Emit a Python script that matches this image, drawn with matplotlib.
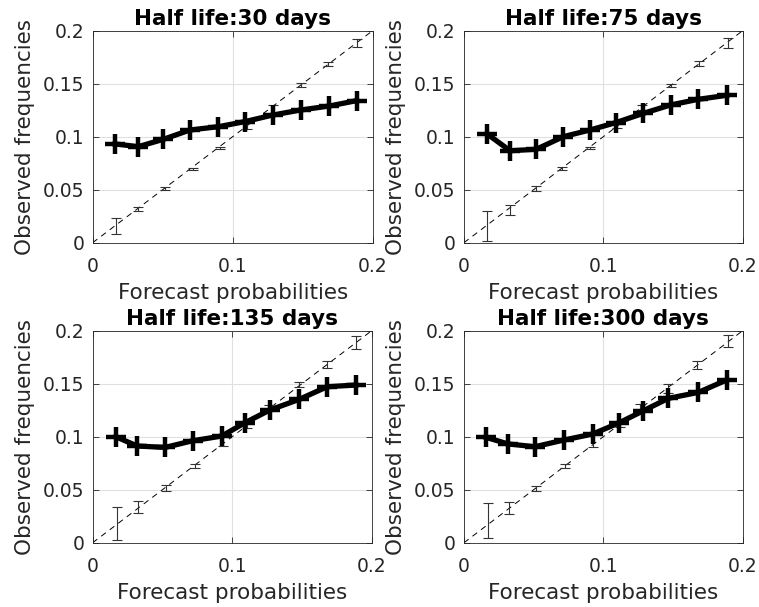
import matplotlib
matplotlib.use("Agg")
import matplotlib.pyplot as plt
import numpy as np

plt.rcParams['font.family'] = ['DejaVu Sans']

titles = ["Half life:30 days", "Half life:75 days",
          "Half life:135 days", "Half life:300 days"]

# forecast probabilities and observed frequencies (thick line with + markers)
fx_30 = [0.016, 0.0326, 0.0505, 0.0695, 0.0898, 0.1088, 0.1286, 0.1488, 0.169, 0.1886]
fy_30 = [0.0931, 0.0906, 0.0975, 0.1063, 0.1094, 0.1142, 0.1204, 0.1252, 0.1289, 0.134]
fx_75 = [0.0167, 0.033, 0.0517, 0.0713, 0.0904, 0.1089, 0.1287, 0.1483, 0.168, 0.1885]
fy_75 = [0.1025, 0.0868, 0.088, 0.1, 0.1063, 0.1132, 0.122, 0.1299, 0.1352, 0.139]
fx_135 = [0.0165, 0.032, 0.0519, 0.0717, 0.0925, 0.1092, 0.1271, 0.148, 0.1682, 0.1885]
fy_135 = [0.1, 0.0912, 0.0899, 0.0962, 0.1006, 0.1132, 0.1252, 0.1352, 0.1472, 0.1487]
fx_300 = [0.0158, 0.0318, 0.051, 0.0718, 0.0923, 0.1115, 0.1287, 0.1467, 0.1682, 0.1885]
fy_300 = [0.0994, 0.0931, 0.0906, 0.0969, 0.1025, 0.1132, 0.1245, 0.1362, 0.1418, 0.1535]

# reliability error bars along the diagonal (x, lower, upper)
ex_30 = [0.0167, 0.0326, 0.0517, 0.0714, 0.091, 0.11, 0.1286, 0.1486, 0.1683, 0.1886]
elo_30 = [0.0082, 0.0302, 0.0497, 0.0686, 0.088, 0.107, 0.1204, 0.1472, 0.1667, 0.1849]
ehi_30 = [0.023, 0.0333, 0.0522, 0.0708, 0.0906, 0.1126, 0.1299, 0.151, 0.1708, 0.1918]
ex_75 = [0.0167, 0.033, 0.0517, 0.0701, 0.0904, 0.11, 0.128, 0.1483, 0.169, 0.1897]
elo_75 = [0.0019, 0.026, 0.049, 0.0686, 0.0887, 0.108, 0.125, 0.1465, 0.1667, 0.184]
ehi_75 = [0.0302, 0.0355, 0.053, 0.0717, 0.0906, 0.112, 0.13, 0.15, 0.171, 0.193]
ex_135 = [0.0172, 0.0327, 0.0526, 0.0734, 0.0932, 0.1104, 0.1266, 0.148, 0.1682, 0.1885]
elo_135 = [0.003, 0.0277, 0.049, 0.0701, 0.0912, 0.108, 0.124, 0.1465, 0.1645, 0.1824]
ehi_135 = [0.034, 0.0396, 0.0544, 0.0739, 0.1016, 0.113, 0.13, 0.1513, 0.1717, 0.195]
ex_300 = [0.0175, 0.0325, 0.0517, 0.0725, 0.0923, 0.112, 0.1263, 0.1467, 0.167, 0.1897]
elo_300 = [0.0041, 0.027, 0.0487, 0.0701, 0.0906, 0.109, 0.125, 0.1409, 0.1638, 0.1843]
ehi_300 = [0.0371, 0.0387, 0.0538, 0.0739, 0.1031, 0.115, 0.131, 0.1497, 0.1717, 0.196]

panels = [
    (fx_30, fy_30, ex_30, elo_30, ehi_30),
    (fx_75, fy_75, ex_75, elo_75, ehi_75),
    (fx_135, fy_135, ex_135, elo_135, ehi_135),
    (fx_300, fy_300, ex_300, elo_300, ehi_300),
]

# axes boxes in figure fractions (left, bottom, width, height)
boxes = [
    [0.1221, 0.6002, 0.3689, 0.3493],
    [0.6113, 0.6002, 0.3672, 0.3493],
    [0.1221, 0.1059, 0.3676, 0.3493],
    [0.6113, 0.1059, 0.3672, 0.3493],
]

fig = plt.figure(figsize=(7.59, 6.07), dpi=100)

for i in range(4):
    fx, fy, ex, elo, ehi = panels[i]
    ax = fig.add_axes(boxes[i])
    elo = np.array(elo)
    ehi = np.array(ehi)
    mid = (elo + ehi) / 2
    ax.plot([0, 0.2], [0, 0.2], color='black', linestyle=(0, (6, 5)), linewidth=0.7, zorder=2)
    ax.errorbar(ex, mid, yerr=[mid - elo, ehi - mid], fmt='none', ecolor='#333333',
                elinewidth=0.8, capsize=3.5, capthick=0.8, zorder=3)
    ax.plot(fx, fy, color='black', linewidth=3.8, marker='+', markersize=15,
            markeredgewidth=3.2, zorder=4)
    ax.set_xlim(0, 0.2)
    ax.set_ylim(0, 0.2)
    ax.set_xticks([0, 0.1, 0.2])
    ax.set_xticklabels(["0", "0.1", "0.2"])
    ax.set_yticks([0, 0.05, 0.1, 0.15, 0.2])
    ax.set_yticklabels(["0", "0.05", "0.1", "0.15", "0.2"])
    ax.grid(True, color='#e0e0e0', linewidth=0.8)
    ax.set_axisbelow(True)
    ax.tick_params(direction='in', top=True, right=True, length=4, width=0.6,
                   colors='#262626', labelsize=13.5, labelcolor='#262626')
    ax.tick_params(axis='x', pad=10)
    ax.tick_params(axis='y', pad=6)
    for s in ax.spines.values():
        s.set_color('#262626')
        s.set_linewidth(0.6)
    ax.set_xlabel("Forecast probabilities", fontsize=15.5, color='#262626', labelpad=5)
    ax.set_ylabel("Observed frequencies", fontsize=15.5, color='#262626', labelpad=6)
    ax.set_title(titles[i], fontsize=15.5, fontweight='bold', pad=4)

fig.savefig("out.png", dpi=100)
